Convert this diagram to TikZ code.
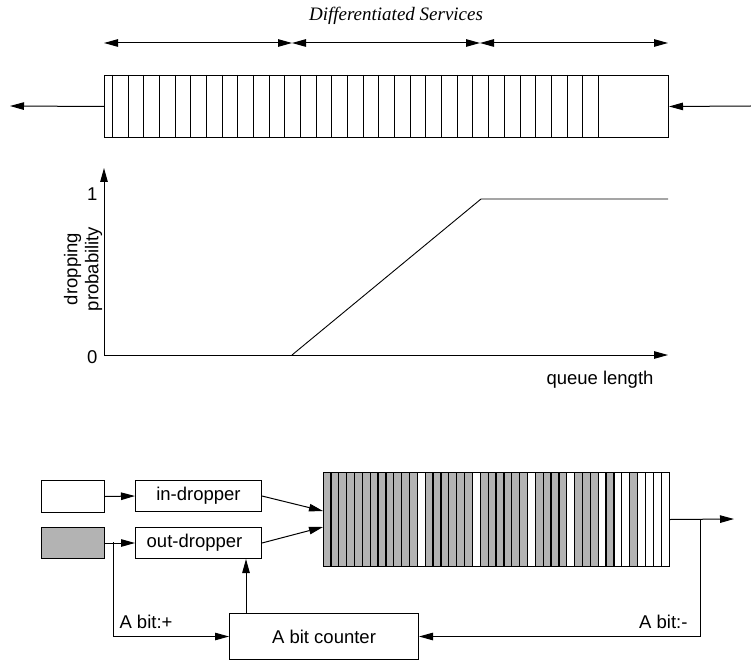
\documentclass[tikz,border=0pt]{standalone}
\usepackage{fontspec}
\setmainfont{Liberation Sans}
\newfontfamily\titlefont{Liberation Serif}
\usetikzlibrary{arrows.meta}
\definecolor{qgray}{HTML}{B3B3B3}
\begin{document}
\begin{tikzpicture}[x=1pt,y=-1pt,line width=1pt,
  every node/.style={font=\fontsize{18.5}{21}\selectfont},
  arr/.style={-{Triangle[length=14pt,width=7.5pt]}},
  darr/.style={{Triangle[length=14pt,width=7.5pt]}-{Triangle[length=14pt,width=7.5pt]}},
  plain/.style={draw,inner sep=0pt,anchor=north west},
  stripe/.style={line width=0.9pt},
  cell/.style={line width=1.3pt}]
\useasboundingbox (0,0) rectangle (751,660);

% ---------- top: queue with service classes ----------
\node (title) at (396,16) {\titlefont\itshape\fontsize{19}{22}\selectfont Differentiated Services};
\coordinate (t0) at (104,43);
\coordinate (t1) at (292,43);
\coordinate (t2) at (480,43);
\coordinate (t3) at (668,43);
\draw[darr] (t0) -- (t1);
\draw[darr] (t1) -- (t2);
\draw[darr] (t2) -- (t3);

\node[plain,minimum width=564pt,minimum height=62pt] (topq) at (104,75) {};
\foreach \i in {0,...,31} \draw[stripe] ({112.3+15.68*\i},75) -- ++(0,62);
\coordinate (lo) at (10,106);
\coordinate (ri) at (751,106);
\draw[arr] (topq.west) -- (lo);
\draw[arr] (ri) -- (topq.east);

% ---------- middle: dropping probability ----------
\coordinate (o) at (104,355);
\coordinate (ytop) at (104,168);
\coordinate (xend) at (668,355);
\draw[arr] (o) -- (ytop);
\draw[arr] (o) -- (xend);
\coordinate (r0) at (292,355);
\coordinate (r1) at (481,199);
\coordinate (r2) at (668,199);
\draw[line width=0.9pt] (r0) -- (r1) -- (r2);
\node[anchor=east,inner sep=0pt] (one) at (98,194) {1};
\node[anchor=east,inner sep=0pt] (zero) at (98,357) {0};
\node[rotate=90,align=center,inner sep=0pt] (dp) at (83,269) {dropping\\probability};
\node (ql) at (600,380) {queue length};

% ---------- bottom: RIO with A bit counter ----------
\foreach \i in {0,...,11,13,14,...,18,20,21,...,25,27,28,29,30,32,33,34,36,39}
  \fill[qgray] ({323+7.864*\i},472) rectangle ++(7.864,94);
\foreach \i in {1,...,43} \draw[cell] ({323+7.864*\i},472) -- ++(0,94);
\node[plain,minimum width=346pt,minimum height=94pt] (botq) at (323,472) {};

\node[plain,minimum width=63pt,minimum height=32pt] (wbox) at (41,480) {};
\node[plain,fill=qgray,minimum width=63pt,minimum height=31pt] (gbox) at (41,527) {};
\node[plain,minimum width=126pt,minimum height=31pt] (ind) at (135,480) {};
\node at (ind.center) {in-dropper};
\node[plain,minimum width=126pt,minimum height=31pt] (oud) at (135,527) {};
\node at ([xshift=-4pt]oud.center) {out-dropper};
\node[plain,minimum width=189pt,minimum height=46pt] (abc) at (229,613) {};
\node at (abc.center) {A bit counter};

\coordinate (qin1) at (323,511);
\coordinate (qin2) at (323,527);
\draw[arr] (wbox.east) -- (ind.west);
\draw[arr] (gbox.east) -- (oud.west);
\draw[arr] (ind.east) -- (qin1);
\draw[arr] (oud.east) -- (qin2);

\coordinate (b1) at (113,542);
\draw[arr] (b1) |- (abc.west);
\coordinate (up1) at (246,613);
\draw[arr] (up1) -- (up1 |- oud.south);

\coordinate (out) at (734,519);
\draw[arr] (botq.east) -- (out);
\coordinate (b2) at (700,519);
\draw[arr] (b2) |- (abc.east);

\node[anchor=west,inner sep=0pt] (lp) at (119,622) {A bit:+};
\node[anchor=east,inner sep=0pt] (lm) at (688,622) {A bit:-};
\end{tikzpicture}
\end{document}
